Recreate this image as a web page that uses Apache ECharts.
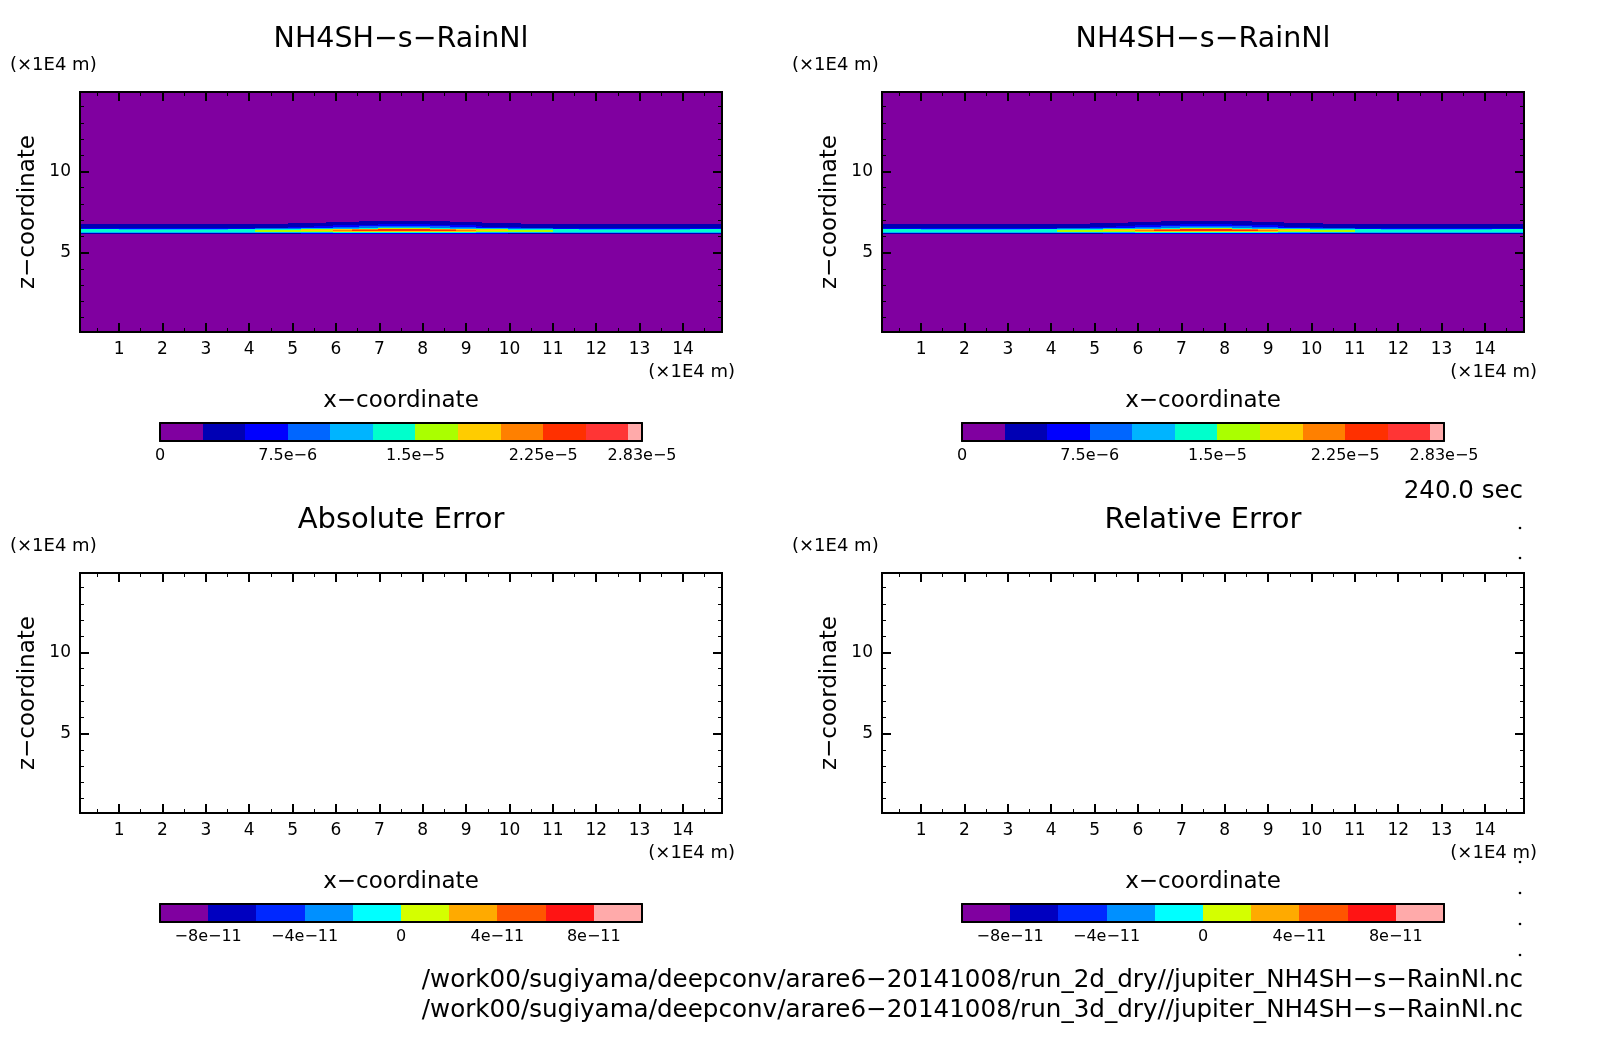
<!DOCTYPE html>
<html>
<head>
<meta charset="utf-8">
<title>NH4SH-s-RainNl</title>
<script src="https://cdn.jsdelivr.net/npm/echarts@6/dist/echarts.min.js"></script>
<style>
  html, body { margin: 0; padding: 0; background: #fff; }
  #main { width: 1604px; height: 1054px; }
</style>
</head>
<body>
<div id="main"></div>
<script>
// axis ticks, in units of 1E4 m
var xMajor = [1, 2, 3, 4, 5, 6, 7, 8, 9, 10, 11, 12, 13, 14];
var xMinor = [0.5, 1.5, 2.5, 3.5, 4.5, 5.5, 6.5, 7.5, 8.5, 9.5, 10.5, 11.5, 12.5, 13.5, 14.5];
var zMajor = [5, 10];
var zMinor = [1, 2, 3, 4, 6, 7, 8, 9, 11, 12, 13, 14];

// field cell edges, 1E4 m (columns left to right, rows top to bottom)
var xEdges = [0.10, 1.00, 3.51, 4.13, 4.89, 5.19, 5.49, 5.77, 5.93, 6.37, 6.53, 6.97,
  8.17, 8.63, 8.77, 9.23, 9.37, 9.97, 10.27, 11.00, 11.60, 14.16, 14.90];
var zEdges = [14.90, 6.945, 6.883, 6.822, 6.76, 6.70, 6.64, 6.575, 6.51, 6.45, 6.39, 6.33, 6.27, 6.205, 6.14, 0.10];

// NH4SH-s-RainNl read per column, in 1e-6
var fieldColumns = [
  [1, 1, 1, 1, 4, 4, 4, 4, 6, 14, 14, 14, 11, 4, 1],
  [1, 1, 1, 1, 4, 4, 4, 4, 6, 11, 14, 14, 11, 4, 1],
  [1, 1, 1, 1, 4, 4, 4, 4, 6, 14, 14, 14, 11, 4, 1],
  [1, 1, 1, 1, 4, 4, 4, 4, 9, 14, 16, 16, 11, 4, 1],
  [1, 1, 1, 4, 4, 4, 4, 6, 9, 14, 16, 16, 11, 4, 1],
  [1, 1, 1, 4, 4, 4, 4, 6, 11, 16, 19, 16, 11, 6, 1],
  [1, 1, 1, 4, 4, 4, 6, 6, 11, 16, 19, 16, 11, 6, 1],
  [1, 1, 4, 4, 4, 4, 6, 6, 11, 16, 19, 16, 11, 6, 1],
  [1, 1, 4, 4, 4, 6, 6, 9, 11, 19, 21, 19, 14, 6, 1],
  [1, 1, 4, 4, 4, 6, 6, 9, 11, 21, 24, 19, 14, 6, 1],
  [1, 4, 4, 4, 4, 6, 9, 9, 14, 21, 24, 19, 14, 6, 1],
  [1, 4, 4, 4, 6, 6, 9, 11, 16, 24, 24, 19, 14, 6, 1],
  [1, 4, 4, 4, 4, 6, 9, 9, 14, 21, 24, 19, 14, 6, 1],
  [1, 1, 4, 4, 4, 6, 6, 9, 11, 21, 24, 19, 14, 6, 1],
  [1, 1, 4, 4, 4, 6, 6, 9, 11, 19, 21, 19, 14, 6, 1],
  [1, 1, 4, 4, 4, 4, 6, 6, 11, 16, 19, 16, 11, 6, 1],
  [1, 1, 1, 4, 4, 4, 4, 6, 11, 16, 19, 16, 11, 6, 1],
  [1, 1, 1, 4, 4, 4, 4, 6, 9, 14, 16, 16, 11, 4, 1],
  [1, 1, 1, 1, 4, 4, 4, 4, 9, 14, 16, 16, 11, 4, 1],
  [1, 1, 1, 1, 4, 4, 4, 4, 6, 14, 14, 14, 11, 4, 1],
  [1, 1, 1, 1, 4, 4, 4, 4, 6, 11, 14, 14, 11, 4, 1],
  [1, 1, 1, 1, 4, 4, 4, 4, 6, 14, 14, 14, 11, 4, 1]
];

// colour bars: upper pair in 1e-6, lower pair in 1e-11
var fieldLevels = [0, 2.5, 5, 7.5, 10, 12.5, 15, 17.5, 20, 22.5, 25, 27.5, 28.3];
var fieldColors = ['#8000a0', '#0000b4', '#0000ff', '#0066ff', '#00b4ff', '#00ffcc',
  '#aaff00', '#ffcc00', '#ff8000', '#ff3000', '#ff3535', '#ffaaaa'];
var fieldTicks = [0, 7.5, 15, 22.5, 28.3];
var fieldTickLabels = ['0', '7.5e\u22126', '1.5e\u22125', '2.25e\u22125', '2.83e\u22125'];

var errorLevels = [-10, -8, -6, -4, -2, 0, 2, 4, 6, 8, 10];
var errorColors = ['#8000a0', '#0000c0', '#0028ff', '#0090ff', '#00ffff',
  '#d4ff00', '#ffaa00', '#ff5500', '#ff1414', '#ffaaaa'];
var errorTicks = [-8, -4, 0, 4, 8];
var errorTickLabels = ['\u22128e\u221211', '\u22124e\u221211', '0', '4e\u221211', '8e\u221211'];

var panelTitles = ['NH4SH\u2212s\u2212RainNl', 'NH4SH\u2212s\u2212RainNl', 'Absolute Error', 'Relative Error'];
var timeLabel = '240.0 sec';
var fileLabels = [
  '/work00/sugiyama/deepconv/arare6\u221220141008/run_2d_dry//jupiter_NH4SH\u2212s\u2212RainNl.nc',
  '/work00/sugiyama/deepconv/arare6\u221220141008/run_3d_dry//jupiter_NH4SH\u2212s\u2212RainNl.nc'
];

var FONT = 'DejaVu Sans';
var COL_DX = 802, ROW_DY = 481;

var chart = echarts.init(document.getElementById('main'));

var grids = [], xAxes = [], yAxes = [], series = [], graphics = [];

function addText(text, x, y, size, align, rotation) {
  graphics.push({
    type: 'text', x: x, y: y, rotation: rotation || 0, silent: true,
    style: { text: text, fontFamily: FONT, fontSize: size, fill: '#000', align: align, verticalAlign: 'middle' }
  });
}

function tickAxis(pos, min, max, grid, ticks, len, width, labelled, extra) {
  var ax = {
    type: 'value', gridIndex: grid, position: pos, min: min, max: max, z: 5,
    splitLine: { show: false },
    axisLine: { show: true, onZero: false, lineStyle: { color: '#000', width: 2 } },
    axisTick: { show: true, inside: true, length: len, customValues: ticks, lineStyle: { color: '#000', width: width } },
    axisLabel: { show: false }
  };
  if (labelled) {
    ax.axisLabel = { show: true, customValues: ticks, color: '#000', fontFamily: FONT, fontSize: 17, margin: 9 };
  }
  return Object.assign(ax, extra || {});
}

function rectItem(params, api, color) {
  var p0 = api.coord([api.value(0), api.value(3)]);
  var p1 = api.coord([api.value(1), api.value(2)]);
  var x = Math.round(p0[0]), y = Math.round(p0[1]);
  return {
    type: 'rect',
    shape: { x: x, y: y, width: Math.round(p1[0]) - x, height: Math.round(p1[1]) - y },
    style: { fill: color }
  };
}

function levelColor(v, levels, colors) {
  for (var i = colors.length - 1; i > 0; i--) {
    if (v >= levels[i]) return colors[i];
  }
  return colors[0];
}

function fieldCells() {
  var cells = [];
  fieldColumns.forEach(function (col, i) {
    col.forEach(function (v, j) {
      cells.push([xEdges[i], xEdges[i + 1], zEdges[j + 1], zEdges[j], v]);
    });
  });
  return cells;
}

function addPanel(col, row, title, withField) {
  var dx = col * COL_DX, dy = row * ROW_DY;
  var g = grids.length;
  grids.push({ left: 80 + dx, top: 92 + dy, width: 642, height: 240 });

  var xi = xAxes.length, yi = yAxes.length;
  xAxes.push(tickAxis('bottom', 0.1, 14.9, g, xMajor, 9, 2, true, {
    name: 'x\u2212coordinate', nameLocation: 'middle', nameGap: 58,
    nameTextStyle: { color: '#000', fontFamily: FONT, fontSize: 23 }
  }));
  xAxes.push(tickAxis('bottom', 0.1, 14.9, g, xMinor, 4, 1));
  xAxes.push(tickAxis('top', 0.1, 14.9, g, xMajor, 9, 2));
  xAxes.push(tickAxis('top', 0.1, 14.9, g, xMinor, 4, 1));
  yAxes.push(tickAxis('left', 0.1, 14.9, g, zMajor, 9, 2, true, {
    name: 'z\u2212coordinate', nameLocation: 'middle', nameGap: 40, nameRotate: 90,
    nameTextStyle: { color: '#000', fontFamily: FONT, fontSize: 23 }
  }));
  yAxes.push(tickAxis('left', 0.1, 14.9, g, zMinor, 4, 1));
  yAxes.push(tickAxis('right', 0.1, 14.9, g, zMajor, 9, 2));
  yAxes.push(tickAxis('right', 0.1, 14.9, g, zMinor, 4, 1));

  if (withField) {
    series.push({
      type: 'custom', xAxisIndex: xi, yAxisIndex: yi, z: 1, silent: true,
      clip: true, encode: { x: [0, 1], y: [2, 3] },
      data: fieldCells(),
      renderItem: function (params, api) {
        return rectItem(params, api, levelColor(api.value(4), fieldLevels, fieldColors));
      }
    });
  }

  addText(title, 401 + dx, 40 + dy - row, row ? 29 : 28.5, 'center');
  addText('(\u00d71E4 m)', 10 + (col ? 782 : 0), 65 + dy, 18, 'left');
  addText('(\u00d71E4 m)', 735 + dx, 372 + dy, 18, 'right');
}

function addColorBar(col, row, levels, colors, ticks, tickLabels) {
  var dx = col * COL_DX, dy = row * ROW_DY;
  var g = grids.length;
  var lo = levels[0], hi = levels[levels.length - 1];
  grids.push({ left: 160 + dx, top: 423 + dy, width: 482, height: 18 });

  var xi = xAxes.length, yi = yAxes.length;
  xAxes.push({
    type: 'value', gridIndex: g, position: 'bottom', min: lo, max: hi, z: 5,
    splitLine: { show: false },
    axisLine: { show: true, onZero: false, lineStyle: { color: '#000', width: 2 } },
    axisTick: { show: false },
    axisLabel: {
      show: true, customValues: ticks, color: '#000', fontFamily: FONT, fontSize: 16, margin: 7,
      formatter: function (v) { return tickLabels[ticks.indexOf(v)]; }
    }
  });
  xAxes.push({
    type: 'value', gridIndex: g, position: 'top', min: lo, max: hi, z: 5,
    splitLine: { show: false },
    axisLine: { show: true, onZero: false, lineStyle: { color: '#000', width: 2 } },
    axisTick: { show: false }, axisLabel: { show: false }
  });
  ['left', 'right'].forEach(function (pos) {
    yAxes.push({
      type: 'value', gridIndex: g, position: pos, min: 0, max: 1, z: 5,
      splitLine: { show: false },
      axisLine: { show: true, onZero: false, lineStyle: { color: '#000', width: 2 } },
      axisTick: { show: false }, axisLabel: { show: false }
    });
  });

  series.push({
    type: 'custom', xAxisIndex: xi, yAxisIndex: yi, z: 1, silent: true,
    encode: { x: [0, 1], y: [2, 3] },
    data: colors.map(function (c, i) { return [levels[i], levels[i + 1], 0, 1, i]; }),
    renderItem: function (params, api) {
      return rectItem(params, api, colors[api.value(4)]);
    }
  });
}

addPanel(0, 0, panelTitles[0], true);
addPanel(1, 0, panelTitles[1], true);
addPanel(0, 1, panelTitles[2], false);
addPanel(1, 1, panelTitles[3], false);

addColorBar(0, 0, fieldLevels, fieldColors, fieldTicks, fieldTickLabels);
addColorBar(1, 0, fieldLevels, fieldColors, fieldTicks, fieldTickLabels);
addColorBar(0, 1, errorLevels, errorColors, errorTicks, errorTickLabels);
addColorBar(1, 1, errorLevels, errorColors, errorTicks, errorTickLabels);

addText(timeLabel, 1523, 492, 24.5, 'right');
addText(fileLabels[0], 1523, 981, 24.6, 'right');
addText(fileLabels[1], 1523, 1011, 24.6, 'right');

// stray dots along the right edge of the original page
[528, 558, 862, 893, 924, 955].forEach(function (y) {
  graphics.push({ type: 'circle', silent: true, shape: { cx: 1520, cy: y, r: 1.3 }, style: { fill: '#000' } });
});

chart.setOption({
  animation: false,
  backgroundColor: '#fff',
  tooltip: { show: false },
  grid: grids,
  xAxis: xAxes,
  yAxis: yAxes,
  series: series,
  graphic: { elements: graphics }
});
</script>
</body>
</html>
